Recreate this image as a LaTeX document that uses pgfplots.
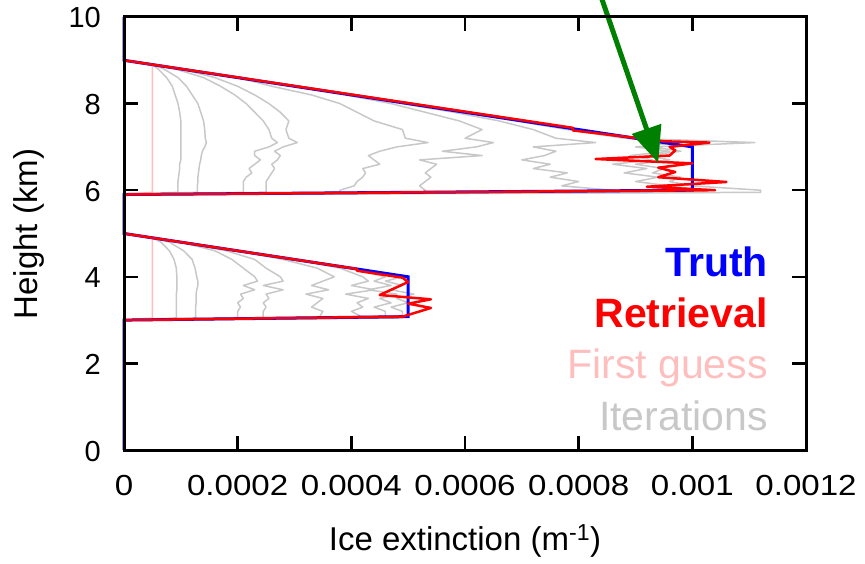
\documentclass[border=0pt]{standalone}
\usepackage{pgfplots}
\pgfplotsset{compat=1.18}
\usepackage{pgfplotstable}
\usepackage{fontspec}
\setmainfont{Liberation Sans}
\usetikzlibrary{arrows.meta}

\definecolor{truthblue}{RGB}{0,0,255}
\definecolor{retred}{RGB}{255,0,0}
\definecolor{guesspink}{RGB}{255,190,190}
\definecolor{itergray}{RGB}{200,200,200}
\definecolor{arrowgreen}{RGB}{0,128,0}

% Iterations of the upper cloud layer: height (km) and extinction (1/m)
\pgfplotstableread{
h    i1       i2       i3       i4       i5       i6       i7       i8       i9
9.0  0        0        0        0        0        0        0        0        0
8.9  0.00005  0.00005  0.00005  0.00005  0.00005  0.00005  0.00005  0.00005  0.00005
8.8  0.00006  0.00007  0.00009  0.0001   0.0001   0.0001   0.0001   0.0001   0.0001
8.6  0.000075 0.000095 0.00014  0.00016  0.0002   0.0002   0.0002   0.0002   0.0002
8.4  0.000085 0.00011  0.00017  0.0002   0.00026  0.0003   0.0003   0.0003   0.0003
8.2  0.00009  0.00012  0.000195 0.00023  0.00033  0.00039  0.0004   0.0004   0.0004
8.0  0.000095 0.00013  0.000215 0.000255 0.00038  0.00047  0.00049  0.0005   0.0005
7.8  0.000098 0.000135 0.00023  0.000275 0.00041  0.00053  0.00058  0.000595 0.0006
7.6  0.0001   0.00014  0.000245 0.00029  0.00044  0.00059  0.00066  0.00069  0.0007
7.4  0.0001   0.000142 0.000255 0.000285 0.00049  0.00063  0.00072  0.00078  0.000795
7.2  0.0001   0.000143 0.00026  0.00029  0.000495 0.0006   0.00076  0.00088  0.00089
7.1  0.0001   0.000145 0.00027  0.000305 0.000535 0.00065  0.00083  0.00098  0.00111
7.0  0.0001   0.000142 0.000255 0.00028  0.00048  0.00062  0.00072  0.0009   0.00093
6.9  0.0001   0.000138 0.00023  0.000265 0.00045  0.00056  0.00076  0.00096  0.00098
6.8  0.0001   0.000136 0.00023  0.000275 0.00043  0.00063  0.00074  0.00089  0.00092
6.7  0.0001   0.000135 0.00024  0.00027  0.00044  0.00052  0.0007   0.00093  0.00096
6.6  0.000098 0.000133 0.00023  0.00026  0.00045  0.00055  0.00075  0.00086  0.0009
6.5  0.000098 0.000132 0.00022  0.000265 0.00042  0.00054  0.00072  0.00092  0.00095
6.4  0.000097 0.000131 0.000225 0.00026  0.000425 0.00053  0.00078  0.00088  0.00093
6.3  0.000096 0.00013  0.000215 0.000255 0.00042  0.00054  0.00075  0.00094  0.00098
6.2  0.000095 0.00013  0.00021  0.00025  0.00041  0.00053  0.0008   0.0009   0.00096
6.1  0.000095 0.000129 0.00021  0.00025  0.000405 0.00052  0.00077  0.00096  0.001
6.0  0.000095 0.000129 0.00021  0.00025  0.00038  0.00053  0.00086  0.00102  0.00112
5.95 0.000095 0.000129 0.00021  0.00025  0.00038  0.00053  0.00086  0.00102  0.00112
5.9  0        0        0        0        0        0        0        0        0
}\upperiter

% Iterations of the lower cloud layer
\pgfplotstableread{
h    i1       i2       i3       i4       i5       i6       i7       i8
5.0  0        0        0        0        0        0        0        0
4.9  0.00005  0.00005  0.00005  0.00005  0.00005  0.00005  0.00005  0.00005
4.8  0.000065 0.00008  0.0001   0.0001   0.0001   0.0001   0.0001   0.0001
4.6  0.00008  0.000105 0.00016  0.00018  0.0002   0.0002   0.0002   0.0002
4.4  0.000088 0.00012  0.00019  0.00023  0.00028  0.0003   0.0003   0.0003
4.2  0.000092 0.000125 0.00021  0.00025  0.00034  0.00038  0.000395 0.0004
4.0  0.000093 0.000128 0.00023  0.000275 0.00037  0.00042  0.00046  0.00049
3.9  0.000093 0.00013  0.000235 0.00028  0.00035  0.00043  0.00044  0.00046
3.8  0.000093 0.00013  0.00021  0.000245 0.00033  0.0004   0.00047  0.00049
3.7  0.000093 0.000128 0.00023  0.00028  0.00036  0.00044  0.00043  0.00047
3.6  0.000092 0.000127 0.000205 0.00025  0.00032  0.00039  0.00048  0.00051
3.5  0.000092 0.000127 0.00021  0.000255 0.00035  0.00043  0.00045  0.00048
3.4  0.000092 0.000127 0.0002   0.000245 0.00034  0.00041  0.00047  0.0005
3.3  0.000092 0.000126 0.000205 0.00025  0.00033  0.00042  0.00044  0.00047
3.2  0.000092 0.000126 0.0002   0.000245 0.00035  0.0004   0.00046  0.00049
3.1  0.000092 0.000126 0.0002   0.000245 0.000345 0.000415 0.00046  0.00049
3.05 0.000092 0.000126 0.0002   0.000245 0.000345 0.000415 0.00046  0.00049
3.0  0        0        0        0        0        0        0        0
}\loweriter

\begin{document}
\begin{tikzpicture}
\path[use as bounding box] (0,0) rectangle (865pt,563pt);
\begin{axis}[
  at={(124pt,113pt)}, anchor=south west,
  scale only axis, width=682pt, height=433pt,
  xmin=0, xmax=0.0012, ymin=0, ymax=10,
  xtick={0,0.0002,0.0004,0.0006,0.0008,0.001,0.0012},
  xticklabels={0,0.0002,0.0004,0.0006,0.0008,0.001,0.0012},
  ytick={0,2,4,6,8,10},
  scaled x ticks=false,
  tick align=inside,
  major tick length=14pt,
  every tick/.style={black, line width=2.5pt},
  axis line style={black, line width=3pt},
  ticklabel style={font=\fontsize{29}{34}\selectfont, inner sep=0pt},
  xticklabel style={anchor=base, yshift=-45pt, xscale=1.14},
  yticklabel style={anchor=base east, xshift=-23pt, yshift=-11pt},
  /pgf/number format/assume math mode=true,
  clip=false, axis on top,
  no markers,
]
% iterations of the retrieval
\foreach \c in {i1,i2,i3,i4,i5,i6,i7,i8,i9}{
  \addplot[itergray, line width=1.5pt, line join=round] table[x=\c, y=h] {\upperiter};
}
\foreach \c in {i1,i2,i3,i4,i5,i6,i7,i8}{
  \addplot[itergray, line width=1.5pt, line join=round] table[x=\c, y=h] {\loweriter};
}
% first guess
\addplot[guesspink, line width=1.5pt] coordinates {
  (0,0) (0,3.0) (0.00005,3.05) (0.00005,4.9) (0,5.0) (0,5.9)
  (0.00005,5.95) (0.00005,8.9) (0,9.0) (0,10)
};
% truth
\addplot[truthblue, line width=3pt] coordinates {
  (0,0) (0,3.0) (0.0005,3.08) (0.0005,4.0) (0,5.0) (0,5.9)
  (0.001,6.0) (0.001,7.0) (0,9.0) (0,10)
};
% retrieval
\addplot[retred, line width=2.5pt, line join=round] coordinates {
  (0,0) (0,3.0) (0.00049,3.08) (0.00054,3.28) (0.0005,3.38) (0.00054,3.48)
  (0.00045,3.58) (0.0005,3.88) (0.00049,3.98) (0.00041,4.14) (0.00041,4.18)
  (0,5.0) (0,5.9) (0.00104,6.0) (0.00092,6.08) (0.00106,6.19) (0.00094,6.3)
  (0.00097,6.42) (0.00094,6.52) (0.001,6.62) (0.00083,6.72) (0.00096,6.8)
  (0.00097,6.92) (0.00096,7.0) (0.00103,7.1) (0.00095,7.13) (0.00079,7.38)
  (0.00079,7.44) (0,9.0) (0,10)
};
% pointer
\draw[arrowgreen, line width=5pt, -{Triangle[length=36pt,width=30pt]}]
  (axis cs:0.000836,10.6) -- (axis cs:0.00094,6.63);
\end{axis}
% axis titles
\node[anchor=base, font=\fontsize{33}{38}\selectfont, inner sep=0pt] at (465pt,13pt) {Ice extinction (m\textsuperscript{-1})};
\node[anchor=base, rotate=90, font=\fontsize{33}{38}\selectfont, inner sep=0pt] at (37pt,329pt) {Height (km)};
% key
\node[anchor=base east, inner sep=0pt, font=\fontsize{41}{48}\selectfont\bfseries, text=truthblue] at (768pt,286pt) {Truth};
\node[anchor=base east, inner sep=0pt, font=\fontsize{41}{48}\selectfont\bfseries, text=retred] at (768pt,235pt) {Retrieval};
\node[anchor=base east, inner sep=0pt, font=\fontsize{41}{48}\selectfont, text=guesspink] at (768pt,185pt) {First guess};
\node[anchor=base east, inner sep=0pt, font=\fontsize{41}{48}\selectfont, text=itergray] at (768pt,133pt) {Iterations};
\end{tikzpicture}
\end{document}
